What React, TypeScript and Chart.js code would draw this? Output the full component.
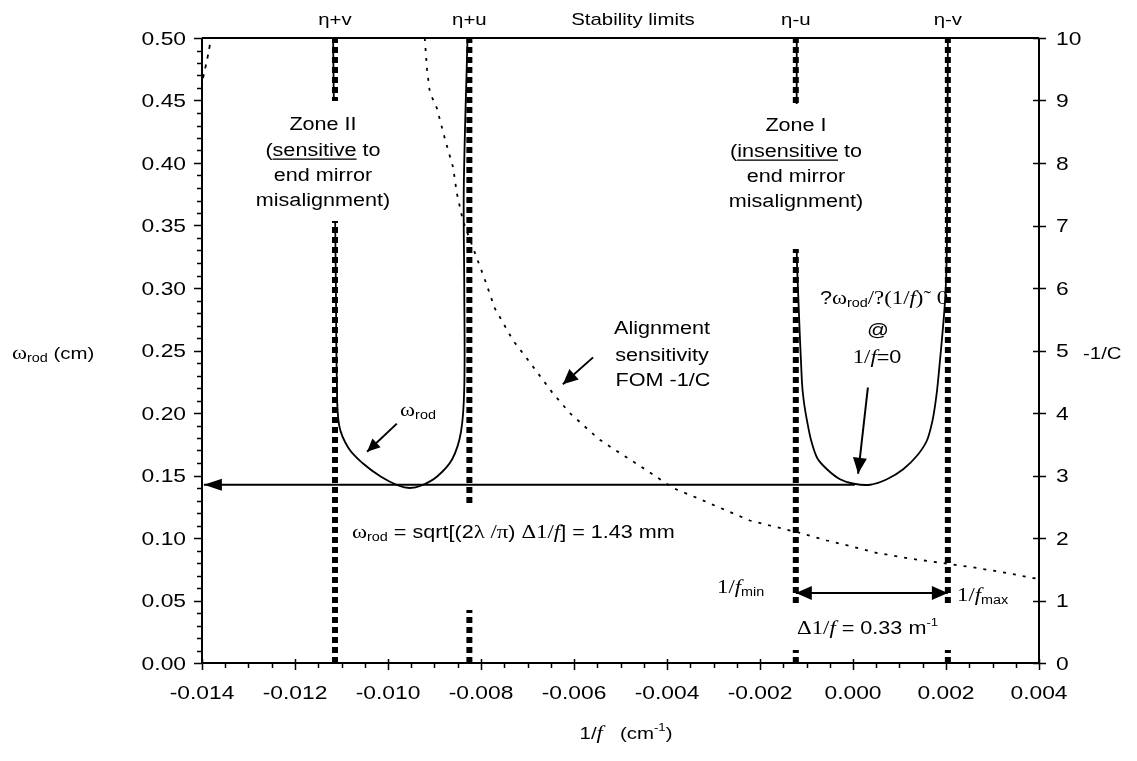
import React, { useEffect, useRef } from "react";
import { Chart, registerables } from "chart.js";
Chart.register(...registerables);

// ---------- tick labels ----------
const xTickValues = [-0.014, -0.012, -0.01, -0.008, -0.006, -0.004, -0.002, 0, 0.002, 0.004];
const xTickLabels = ["-0.014", "-0.012", "-0.010", "-0.008", "-0.006", "-0.004", "-0.002", "0.000", "0.002", "0.004"];
const yTickValues = [0, 0.05, 0.1, 0.15, 0.2, 0.25, 0.3, 0.35, 0.4, 0.45, 0.5];
const yTickLabels = ["0.00", "0.05", "0.10", "0.15", "0.20", "0.25", "0.30", "0.35", "0.40", "0.45", "0.50"];
const y2TickValues = [0, 1, 2, 3, 4, 5, 6, 7, 8, 9, 10];
const y2TickLabels = ["0", "1", "2", "3", "4", "5", "6", "7", "8", "9", "10"];

// ---------- stability limits ----------
const stabilityLabels = ["η+v", "η+u", "η-u", "η-v"];
const stabilityX = [-0.01114, -0.00825, -0.00123, 0.00204];

// ---------- ω_rod, zone II ----------
const zone2X = [-0.01118, -0.01115, -0.01112, -0.0111, -0.01105, -0.01085, -0.01055, -0.01015, -0.00978, -0.00953, -0.00928, -0.00895, -0.00862, -0.00843, -0.00836, -0.00836, -0.00837, -0.00829];
const zone2W = [0.5, 0.4, 0.298, 0.226, 0.19, 0.172, 0.16, 0.149, 0.142, 0.14, 0.142, 0.149, 0.163, 0.185, 0.22, 0.3, 0.38, 0.5];

// ---------- ω_rod, zone I ----------
const zone1X = [-0.00121, -0.00121, -0.00118, -0.0011, -0.00106, -0.00099, -0.0009, -0.00077, -0.00056, -0.00028, 0.00002, 0.00037, 0.00073, 0.00108, 0.00138, 0.00159, 0.00171, 0.00178, 0.00183, 0.00198, 0.00202, 0.00204];
const zone1W = [0.5, 0.33, 0.296, 0.226, 0.21, 0.194, 0.178, 0.164, 0.155, 0.147, 0.1434, 0.1426, 0.147, 0.155, 0.166, 0.178, 0.194, 0.21, 0.226, 0.29, 0.338, 0.5];

// ---------- alignment sensitivity FOM -1/C ----------
const fomX = [-0.00921, -0.00916, -0.0091, -0.00895, -0.00877, -0.0086, -0.00852, -0.00839, -0.00819, -0.00791, -0.0077, -0.00731, -0.00695, -0.00647, -0.00609, -0.00548, -0.00516, -0.00443, -0.00387, -0.00335, -0.00222, -0.00108, -0.00056, -0.00006, 0.00052, 0.00123, 0.00202, 0.00267, 0.00331, 0.00387, 0.004];
const fomC = [10, 9.49, 9.13, 8.88, 8.37, 7.93, 7.52, 7.08, 6.68, 6.12, 5.67, 5.16, 4.81, 4.33, 4.0, 3.59, 3.43, 3.08, 2.8, 2.64, 2.28, 2.07, 1.96, 1.87, 1.76, 1.67, 1.59, 1.52, 1.44, 1.36, 1.35];
const fomEdgeX = [-0.01383, -0.01389, -0.01394, -0.014];
const fomEdgeC = [9.89, 9.65, 9.49, 9.28];

// ---------- arrows (data space) ----------
const minArrowX = [0.00004, -0.01396];
const minArrowW = [0.1426, 0.1426];
const deltaArrowX = [-0.00123, 0.00204];
const deltaArrowW = [0.0561, 0.0561];
const rodPointerX = [-0.00981, -0.01045];
const rodPointerW = [0.1915, 0.169];
const fomPointerX = [-0.00559, -0.00624];
const fomPointerC = [4.89, 4.46];
const zeroPointerX = [0.00032, 0.00011];
const zeroPointerW = [0.2204, 0.1514];

const SANS = '"Liberation Sans", Arial, sans-serif';
const SERIF = '"Liberation Serif", "Times New Roman", serif';
const F = 18;
const SX = 1.2;

type Seg = { t: string; serif?: boolean; italic?: boolean; size?: number; dy?: number; u?: boolean };
const S = (t: string, o: Partial<Seg> = {}): Seg => ({ t, ...o });
const R = (t: string): Seg => ({ t, serif: true, size: 19 });
const I = (t: string): Seg => ({ t, serif: true, italic: true, size: 19 });
const SUB = (t: string): Seg => ({ t, size: 12, dy: 3 });
const SUP = (t: string): Seg => ({ t, size: 11, dy: -8 });

function fontOf(s: Seg) {
  return `${s.italic ? "italic " : ""}${s.size || F}px ${s.serif ? SERIF : SANS}`;
}

function drawRich(ctx: CanvasRenderingContext2D, segs: Seg[], x: number, y: number, align: string, size = F) {
  ctx.save();
  let total = 0;
  const ws = segs.map((s) => {
    ctx.font = fontOf({ ...s, size: s.size || size });
    const w = ctx.measureText(s.t).width;
    total += w;
    return w;
  });
  ctx.translate(x, y);
  ctx.scale(SX, 1);
  let cx = align === "center" ? -total / 2 : align === "right" ? -total : 0;
  const base = 0.36 * size;
  ctx.fillStyle = "#000";
  ctx.textBaseline = "alphabetic";
  ctx.textAlign = "left";
  segs.forEach((s, i) => {
    ctx.font = fontOf({ ...s, size: s.size || size });
    ctx.fillText(s.t, cx, base + (s.dy || 0));
    if (s.u) ctx.fillRect(cx, base + 2, ws[i], 1.3);
    cx += ws[i];
  });
  ctx.restore();
}

function arrowHead(ctx: CanvasRenderingContext2D, x0: number, y0: number, x1: number, y1: number, len: number, half: number) {
  const a = Math.atan2(y1 - y0, x1 - x0);
  const c = Math.cos(a), s = Math.sin(a);
  ctx.beginPath();
  ctx.moveTo(x1, y1);
  ctx.lineTo(x1 - len * c + half * s, y1 - len * s - half * c);
  ctx.lineTo(x1 - len * c - half * s, y1 - len * s + half * c);
  ctx.closePath();
  ctx.fillStyle = "#000";
  ctx.fill();
}

const pts = (xs: number[], ys: number[]) => xs.map((x, i) => ({ x, y: ys[i] }));

const decor = {
  id: "decor",
  beforeDatasetsDraw(chart: any) {
    const ctx = chart.ctx as CanvasRenderingContext2D;
    drawRich(ctx, [S("?"), R("ω"), SUB("rod"), R("/?(1/"), I("f"), R(")˜ 0")], 884, 298, "center");
    drawRich(ctx, [S("@")], 878, 330, "center");
    drawRich(ctx, [R("1/"), I("f"), S("=0")], 877, 357, "center");
  },
  afterDatasetsDraw(chart: any) {
    const ctx = chart.ctx as CanvasRenderingContext2D;
    const xs = chart.scales.x, ys = chart.scales.y, y2 = chart.scales.y2;
    const area = chart.chartArea;

    // text boxes (white fill)
    ctx.save();
    ctx.fillStyle = "#fff";
    ctx.fillRect(228, 101, 176, 120);
    ctx.fillRect(718, 104, 158, 145);
    ctx.fillRect(345, 506, 348, 104);
    ctx.fillRect(790, 606, 165, 44);
    ctx.restore();

    // arrowheads
    const px = (s: any, v: number) => s.getPixelForValue(v);
    arrowHead(ctx, px(xs, minArrowX[0]), px(ys, minArrowW[0]), px(xs, minArrowX[1]), px(ys, minArrowW[1]), 18, 6);
    arrowHead(ctx, px(xs, deltaArrowX[1]), px(ys, deltaArrowW[1]), px(xs, deltaArrowX[0]), px(ys, deltaArrowW[0]), 16, 7);
    arrowHead(ctx, px(xs, deltaArrowX[0]), px(ys, deltaArrowW[0]), px(xs, deltaArrowX[1]), px(ys, deltaArrowW[1]), 16, 7);
    arrowHead(ctx, px(xs, rodPointerX[0]), px(ys, rodPointerW[0]), px(xs, rodPointerX[1]), px(ys, rodPointerW[1]), 13, 6);
    arrowHead(ctx, px(xs, fomPointerX[0]), px(y2, fomPointerC[0]), px(xs, fomPointerX[1]), px(y2, fomPointerC[1]), 15, 7);
    arrowHead(ctx, px(xs, zeroPointerX[0]), px(ys, zeroPointerW[0]), px(xs, zeroPointerX[1]), px(ys, zeroPointerW[1]), 16, 7);

    // frame
    ctx.save();
    ctx.strokeStyle = "#000";
    ctx.lineWidth = 2;
    ctx.beginPath();
    ctx.moveTo(area.left, area.top);
    ctx.lineTo(area.right, area.top);
    ctx.moveTo(area.left, area.top);
    ctx.lineTo(area.left, area.bottom);
    ctx.lineTo(area.right, area.bottom);
    ctx.lineTo(area.right, area.top);
    ctx.stroke();

    // ticks
    ctx.lineWidth = 1.5;
    ctx.beginPath();
    for (let k = 0; k <= 50; k++) {
      const yy = Math.round(px(ys, k * 0.01)) + 0.5;
      const len = k % 5 === 0 ? 8 : 5;
      ctx.moveTo(area.left - len, yy);
      ctx.lineTo(area.left + (k % 5 === 0 ? 1 : 0), yy);
    }
    y2TickValues.forEach((v) => {
      const yy = Math.round(px(y2, v)) + 0.5;
      ctx.moveTo(area.right - 6, yy);
      ctx.lineTo(area.right + 7, yy);
    });
    for (let k = 0; k <= 36; k++) {
      const xx = Math.round(px(xs, -0.014 + k * 0.0005)) + 0.5;
      const major = k % 4 === 0;
      ctx.moveTo(xx, area.bottom - (major ? 4 : 0));
      ctx.lineTo(xx, area.bottom + (major ? 7 : 5));
    }
    ctx.stroke();
    ctx.restore();

    // tick labels
    xTickValues.forEach((v, i) => drawRich(ctx, [S(xTickLabels[i])], px(xs, v), 692, "center", 19));
    yTickValues.forEach((v, i) => drawRich(ctx, [S(yTickLabels[i])], 186, px(ys, v), "right", 19));
    y2TickValues.forEach((v, i) => drawRich(ctx, [S(y2TickLabels[i])], 1056, px(y2, v), "left", 19));

    // top labels
    stabilityLabels.forEach((t, i) => drawRich(ctx, [S(t)], px(xs, stabilityX[i]), 19, "center", 17));
    drawRich(ctx, [S("Stability limits")], 633, 19, "center", 17);

    // axis titles
    drawRich(ctx, [R("ω"), SUB("rod"), S(" (cm)")], 12, 353, "left", 17);
    drawRich(ctx, [S("-1/C")], 1083, 353, "left", 17);
    drawRich(ctx, [S("1/"), I("f"), S("   (cm"), SUP("-1"), S(")")], 626, 733, "center", 17);

    // zone texts
    drawRich(ctx, [S("Zone II")], 323, 124, "center");
    drawRich(ctx, [S("("), S("sensitive", { u: true }), S(" to")], 323, 150, "center");
    drawRich(ctx, [S("end mirror")], 323, 175, "center");
    drawRich(ctx, [S("misalignment)")], 323, 200, "center");

    drawRich(ctx, [S("Zone I")], 796, 125, "center");
    drawRich(ctx, [S("("), S("insensitive", { u: true }), S(" to")], 796, 151, "center");
    drawRich(ctx, [S("end mirror")], 796, 176, "center");
    drawRich(ctx, [S("misalignment)")], 796, 201, "center");

    drawRich(ctx, [R("ω"), SUB("rod")], 418, 410, "center");

    drawRich(ctx, [S("Alignment")], 662, 328, "center");
    drawRich(ctx, [S("sensitivity")], 662, 355, "center");
    drawRich(ctx, [S("FOM -1/C")], 663, 380, "center");

    drawRich(ctx, [R("ω"), SUB("rod"), S(" = sqrt[(2"), R("λ /π"), S(") "), R("Δ1/"), I("f"), S("] = 1.43 mm")], 352, 532, "left");

    drawRich(ctx, [R("1/"), I("f"), SUB("min")], 717, 587, "left");
    drawRich(ctx, [R("1/"), I("f"), SUB("max")], 957, 595, "left");
    drawRich(ctx, [R("Δ1/"), I("f"), S(" = 0.33 m"), SUP("-1")], 797, 628, "left");
  },
};

export default function App() {
  const ref = useRef<HTMLCanvasElement>(null);
  useEffect(() => {
    if (!ref.current) return;
    const line = (data: any[], o: any = {}) => ({
      data,
      showLine: true,
      pointRadius: 0,
      borderColor: "#000",
      backgroundColor: "#000",
      borderWidth: 2,
      tension: 0,
      fill: false,
      ...o,
    });
    const datasets: any[] = [];
    stabilityX.forEach((x, i) =>
      datasets.push(line(pts([x, x], [0, 0.5]), { label: stabilityLabels[i], borderWidth: 6, borderDash: [6, 4], borderCapStyle: "butt" }))
    );
    datasets.push(line(pts(zone2X, zone2W), { label: "ω_rod zone II", borderWidth: 1.8, tension: 0.35 }));
    datasets.push(line(pts(zone1X, zone1W), { label: "ω_rod zone I", borderWidth: 1.8, tension: 0.3 }));
    datasets.push(line(pts(fomX, fomC), { label: "-1/C", yAxisID: "y2", borderWidth: 1.8, borderDash: [3, 7] }));
    datasets.push(line(pts(fomEdgeX, fomEdgeC), { label: "-1/C edge", yAxisID: "y2", borderWidth: 1.8, borderDash: [4, 6] }));
    datasets.push(line(pts(minArrowX, minArrowW), { label: "min", borderWidth: 2 }));
    datasets.push(line(pts(deltaArrowX, deltaArrowW), { label: "delta", borderWidth: 2 }));
    datasets.push(line(pts(rodPointerX, rodPointerW), { label: "rodptr", borderWidth: 2 }));
    datasets.push(line(pts(fomPointerX, fomPointerC), { label: "fomptr", yAxisID: "y2", borderWidth: 2 }));
    datasets.push(line(pts(zeroPointerX, zeroPointerW), { label: "zeroptr", borderWidth: 2 }));

    const chart = new Chart(ref.current, {
      type: "scatter",
      data: { datasets },
      options: {
        responsive: false,
        devicePixelRatio: 1,
        animation: false,
        layout: { padding: { left: 202, right: 98, top: 38, bottom: 98 } },
        plugins: { legend: { display: false }, tooltip: { enabled: false } },
        scales: {
          x: { type: "linear", min: -0.014, max: 0.004, display: false },
          y: { type: "linear", min: 0, max: 0.5, display: false },
          y2: { type: "linear", min: 0, max: 10, display: false, position: "right" },
        },
      },
      plugins: [decor],
    } as any);
    return () => chart.destroy();
  }, []);
  return (
    <div style={{ position: "absolute", left: 0, top: 0, width: 1137, height: 761, background: "#fff" }}>
      <canvas ref={ref} width={1137} height={761} style={{ display: "block" }} />
    </div>
  );
}
